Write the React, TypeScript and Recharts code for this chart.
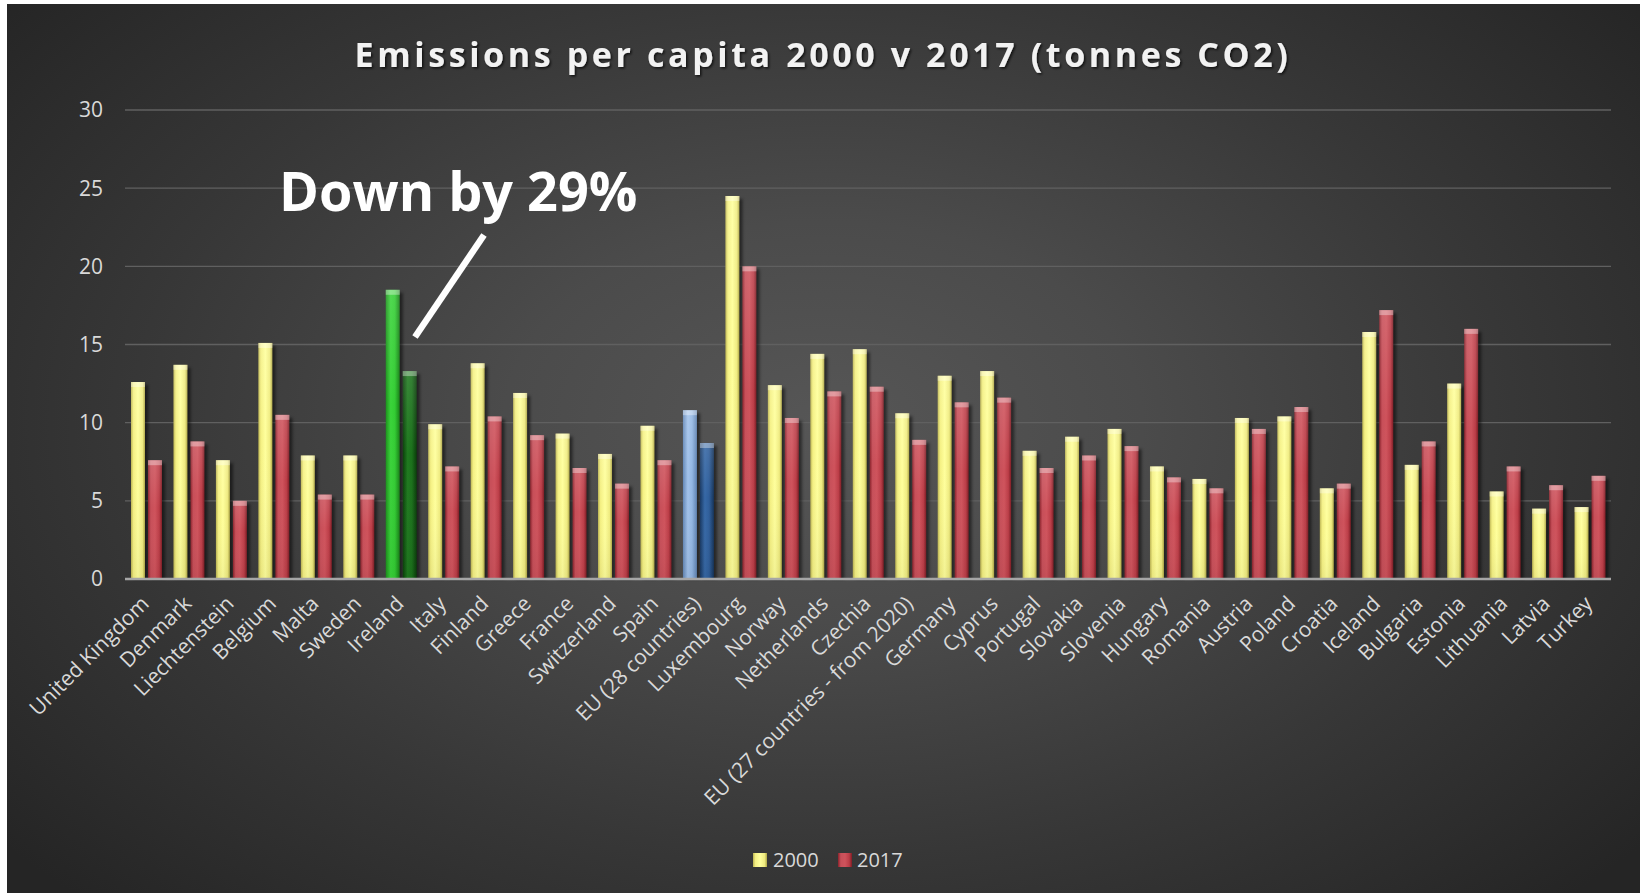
import React from 'react';
import { BarChart, Bar, XAxis, YAxis, CartesianGrid } from 'recharts';

const categories = [
  'United Kingdom', 'Denmark', 'Liechtenstein', 'Belgium', 'Malta', 'Sweden', 'Ireland', 'Italy',
  'Finland', 'Greece', 'France', 'Switzerland', 'Spain', 'EU (28 countries)', 'Luxembourg', 'Norway',
  'Netherlands', 'Czechia', 'EU (27 countries - from 2020)', 'Germany', 'Cyprus', 'Portugal', 'Slovakia',
  'Slovenia', 'Hungary', 'Romania', 'Austria', 'Poland', 'Croatia', 'Iceland', 'Bulgaria', 'Estonia',
  'Lithuania', 'Latvia', 'Turkey',
];

const values2000 = [
  12.6, 13.7, 7.6, 15.1, 7.9, 7.9, 18.5, 9.9, 13.8, 11.9, 9.3, 8.0, 9.8, 10.8, 24.5, 12.4, 14.4, 14.7,
  10.6, 13.0, 13.3, 8.2, 9.1, 9.6, 7.2, 6.4, 10.3, 10.4, 5.8, 15.8, 7.3, 12.5, 5.6, 4.5, 4.6,
];

const values2017 = [
  7.6, 8.8, 5.0, 10.5, 5.4, 5.4, 13.3, 7.2, 10.4, 9.2, 7.1, 6.1, 7.6, 8.7, 20.0, 10.3, 12.0, 12.3,
  8.9, 11.3, 11.6, 7.1, 7.9, 8.5, 6.5, 5.8, 9.6, 11.0, 6.1, 17.2, 8.8, 16.0, 7.2, 6.0, 6.6,
];

const yTicks = [0, 5, 10, 15, 20, 25, 30];
const seriesNames = ['2000', '2017'];
const highlightIreland = 'Ireland';
const highlightEU = 'EU (28 countries)';

const data = categories.map((name, i) => ({ name, v2000: values2000[i], v2017: values2017[i] }));

const FONT = '"Open Sans", "DejaVu Sans", sans-serif';
const LABEL = '#d9d9d9';

const gradStops: Record<string, [number, string][]> = {
  y2000: [[0, '#bdb553'], [0.18, '#f4f083'], [0.5, '#ffff9c'], [0.82, '#efeb80'], [1, '#aea645']],
  y2017: [[0, '#8a222b'], [0.2, '#c74f59'], [0.5, '#cf535c'], [0.8, '#bb3d47'], [1, '#7e1d25']],
  g2000: [[0, '#1c921c'], [0.35, '#3ad43a'], [0.65, '#33cc33'], [1, '#178017']],
  g2017: [[0, '#0a400a'], [0.35, '#1f7a1f'], [0.65, '#1b701b'], [1, '#0a3d0a']],
  b2000: [[0, '#6387b6'], [0.35, '#a2c2ea'], [0.65, '#92b6e2'], [1, '#5f82b0']],
  b2017: [[0, '#183862'], [0.35, '#3668a6'], [0.65, '#2f5e9a'], [1, '#163459']],
};

function gradKey(series: string, name: string) {
  if (name === highlightIreland) return 'g' + series;
  if (name === highlightEU) return 'b' + series;
  return 'y' + series;
}

const makeShape = (series: string) => (props: any) => {
  const { x, y, width, height, payload } = props;
  if (!height || height <= 0) return <g />;
  const key = gradKey(series, payload.name);
  return (
    <g>
      <rect x={x + 3} y={y + 3} width={width} height={Math.max(0, height - 3)} fill="#000" opacity={0.5} filter="url(#barShadow)" />
      <rect x={x} y={y} width={width} height={height} fill={`url(#grad-${key})`} />
      <rect x={x} y={y} width={width} height={height} fill="url(#vshade)" />
      <rect x={x} y={y} width={width} height={5} fill="#ffffff" opacity={0.35} />
    </g>
  );
};

const XTick = (props: any) => {
  const { x, y, payload } = props;
  return (
    <g transform={`translate(${x + 4},${y + 18})`}>
      <text transform="rotate(-45)" textAnchor="end" fill={LABEL} fontSize={21} fontFamily={FONT}>
        {payload.value}
      </text>
    </g>
  );
};

export default function App() {
  return (
    <div style={{ position: 'absolute', left: 0, top: 0, width: 1640, height: 895, background: '#ffffff', overflow: 'hidden' }}>
      <div
        style={{
          position: 'absolute', left: 7, top: 4, width: 1633, height: 889,
          background: 'radial-gradient(ellipse 65% 75% at 50% 47%, #565656 0%, #4b4b4b 30%, #373737 65%, #252525 100%)',
        }}
      />
      <svg width={0} height={0} style={{ position: 'absolute' }}>
        <defs>
          {Object.keys(gradStops).map((k) => (
            <linearGradient key={k} id={`grad-${k}`} x1="0" y1="0" x2="1" y2="0">
              {gradStops[k].map(([o, c], i) => (
                <stop key={i} offset={o} stopColor={c} />
              ))}
            </linearGradient>
          ))}
          <linearGradient id="vshade" x1="0" y1="0" x2="0" y2="1">
            <stop offset={0} stopColor="#ffffff" stopOpacity={0.12} />
            <stop offset={0.4} stopColor="#ffffff" stopOpacity={0.0} />
            <stop offset={1} stopColor="#000000" stopOpacity={0.05} />
          </linearGradient>
          <filter id="barShadow" x="-50%" y="-10%" width="200%" height="120%">
            <feGaussianBlur stdDeviation={1.5} />
          </filter>
          <filter id="titleShadow" x="-5%" y="-30%" width="110%" height="160%">
            <feDropShadow dx={1.5} dy={1.5} stdDeviation={1.2} floodColor="#000" floodOpacity={0.7} />
          </filter>
        </defs>
      </svg>
      <div style={{ position: 'absolute', left: 0, top: 0 }}>
        <BarChart
          width={1640}
          height={895}
          data={data}
          margin={{ top: 110, right: 29, bottom: 116, left: 0 }}
          barSize={14}
          barGap={3}
        >
          <CartesianGrid vertical={false} stroke="#606060" strokeWidth={1.3} />
          <XAxis
            dataKey="name"
            interval={0}
            height={200}
            tickLine={false}
            axisLine={{ stroke: '#a6a6a6', strokeWidth: 2.5 }}
            tick={<XTick />}
          />
          <YAxis
            width={125}
            domain={[0, 30]}
            ticks={yTicks}
            axisLine={false}
            tickLine={false}
            tickMargin={16}
            tick={{ fill: LABEL, fontSize: 21, fontFamily: FONT }}
          />
          <Bar dataKey="v2000" name={seriesNames[0]} isAnimationActive={false} shape={makeShape('2000')} />
          <Bar dataKey="v2017" name={seriesNames[1]} isAnimationActive={false} shape={makeShape('2017')} />
        </BarChart>
      </div>
      <svg width={1640} height={895} style={{ position: 'absolute', left: 0, top: 0, pointerEvents: 'none' }}>
        <text
          x={823}
          y={67}
          textAnchor="middle"
          fill="#f2f2f2"
          fontSize={34}
          fontWeight={700}
          letterSpacing={3.6}
          fontFamily={FONT}
          filter="url(#titleShadow)"
        >
          Emissions per capita 2000 v 2017 (tonnes CO2)
        </text>
        <text x={279} y={211} fill="#ffffff" fontSize={54} fontWeight={700} fontFamily={FONT}>
          Down by 29%
        </text>
        <line x1={484} y1={235} x2={415} y2={337} stroke="#ffffff" strokeWidth={6.5} />
        <rect x={753} y={853} width={14} height={14} fill="url(#grad-y2000)" />
        <text x={773} y={867} fill={LABEL} fontSize={20} fontFamily={FONT}>{seriesNames[0]}</text>
        <rect x={838} y={853} width={14} height={14} fill="url(#grad-y2017)" />
        <text x={857} y={867} fill={LABEL} fontSize={20} fontFamily={FONT}>{seriesNames[1]}</text>
      </svg>
    </div>
  );
}
